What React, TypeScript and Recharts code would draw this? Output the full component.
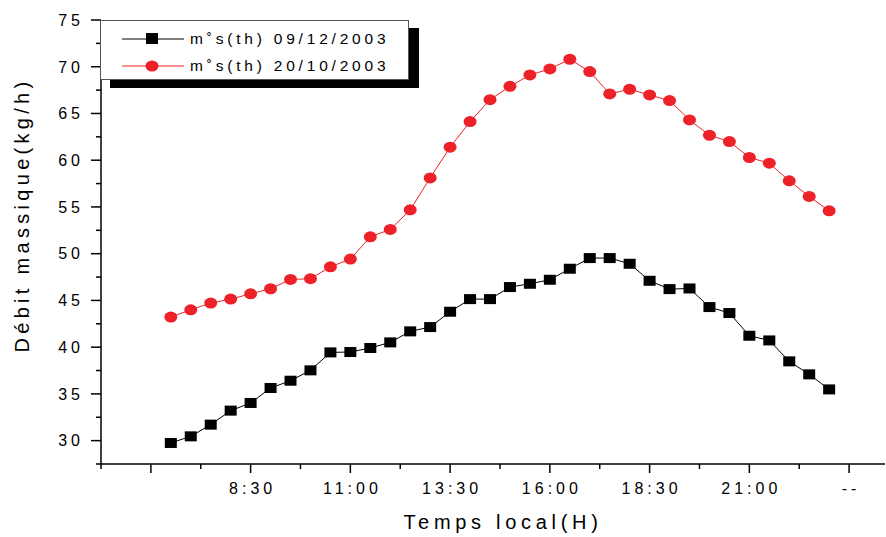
import React from 'react';
import { LineChart, Line, XAxis, YAxis } from 'recharts';

// local time in hours (6:30 .. 23:00, every 30 min)
const hours = [
  6.5, 7, 7.5, 8, 8.5, 9, 9.5, 10, 10.5, 11, 11.5, 12, 12.5, 13, 13.5, 14, 14.5,
  15, 15.5, 16, 16.5, 17, 17.5, 18, 18.5, 19, 19.5, 20, 20.5, 21, 21.5, 22, 22.5, 23,
];
const dec2003 = [
  29.75, 30.46, 31.71, 33.21, 34.03, 35.63, 36.41, 37.52, 39.44, 39.48, 39.91, 40.51, 41.69, 42.15, 43.79, 45.14, 45.14,
  46.43, 46.78, 47.21, 48.39, 49.53, 49.53, 48.92, 47.1, 46.21, 46.28, 44.29, 43.65, 41.22, 40.72, 38.48, 37.09, 35.48,
];
const oct2003 = [
  43.22, 44.0, 44.72, 45.14, 45.71, 46.25, 47.24, 47.32, 48.6, 49.42, 51.81, 52.59, 54.69, 58.11, 61.39, 64.13, 66.48,
  67.9, 69.12, 69.76, 70.8, 69.48, 67.09, 67.59, 66.98, 66.38, 64.31, 62.67, 62.0, 60.29, 59.68, 57.79, 56.12, 54.58,
];

const seriesNames = ['m˚s(th) 09/12/2003', 'm˚s(th) 20/10/2003'];
const xTicks = [4.75, 6, 7.25, 8.5, 9.75, 11, 12.25, 13.5, 14.75, 16, 17.25, 18.5, 19.75, 21, 22.25, 23.5];
const xTickLabels: Record<number, string> = {
  6: '', 8.5: '8:30', 11: '11:00', 13.5: '13:30', 16: '16:00', 18.5: '18:30', 21: '21:00', 23.5: '--',
};
const yTicks = [27.5, 30, 32.5, 35, 37.5, 40, 42.5, 45, 47.5, 50, 52.5, 55, 57.5, 60, 62.5, 65, 67.5, 70, 72.5, 75];

const data = hours.map((t, i) => ({ t, black: dec2003[i], red: oct2003[i] }));

const FONT = '"Liberation Sans", Arial, sans-serif';
const RED = '#ed2128';

const XTick = (props: any) => {
  const { x, y, payload } = props;
  const v = payload.value as number;
  const major = v in xTickLabels;
  const label = xTickLabels[v];
  return (
    <g>
      <line x1={x} x2={x} y1={y} y2={y + (major ? 9 : 5)} stroke="#000" strokeWidth={1.5} />
      {label ? (
        <text x={x + 2} y={y + 29.5} textAnchor="middle" fontFamily={FONT} fontSize={16} letterSpacing={4} fill="#000">
          {label}
        </text>
      ) : null}
    </g>
  );
};

const YTick = (props: any) => {
  const { x, y, payload } = props;
  const v = payload.value as number;
  const major = v % 5 === 0;
  return (
    <g>
      <line x1={x - (major ? 10 : 5)} x2={x} y1={y} y2={y} stroke="#000" strokeWidth={1.5} />
      {major ? (
        <text x={x - 17} y={y + 5.8} textAnchor="end" fontFamily={FONT} fontSize={16} letterSpacing={4} fill="#000">
          {v}
        </text>
      ) : null}
    </g>
  );
};

const SquareDot = (props: any) => {
  const { cx, cy } = props;
  return <rect x={cx - 6} y={cy - 5} width={12} height={10} fill="#000" />;
};

const CircleDot = (props: any) => {
  const { cx, cy } = props;
  return <ellipse cx={cx} cy={cy} rx={6.5} ry={5.5} fill={RED} />;
};

const LegendBox = () => (
  <div
    style={{
      position: 'absolute', left: 100, top: 20, width: 307, height: 58,
      background: '#fff', border: '1px solid #555', boxShadow: '10px 8px 0 #000',
      fontFamily: FONT, fontSize: 15.5, letterSpacing: 3.8, color: '#000',
    }}
  >
    {seriesNames.map((name, i) => (
      <div key={name} style={{ position: 'absolute', left: 0, top: i === 0 ? 6 : 33, height: 24, width: 307 }}>
        <svg width={90} height={24} style={{ position: 'absolute', left: 0, top: 0 }}>
          <line x1={21} x2={83} y1={12} y2={12} stroke={i === 0 ? '#000' : RED} strokeWidth={1} />
          {i === 0 ? (
            <rect x={45} y={6} width={12} height={11} fill="#000" />
          ) : (
            <ellipse cx={51} cy={12} rx={6.5} ry={5.5} fill={RED} />
          )}
        </svg>
        <span style={{ position: 'absolute', left: 89, top: 2, lineHeight: '20px', whiteSpace: 'nowrap' }}>{name}</span>
      </div>
    ))}
  </div>
);

export default function App() {
  return (
    <div style={{ position: 'absolute', left: 0, top: 0, width: 886, height: 537, background: '#fff' }}>
      <LineChart width={886} height={537} data={data} margin={{ top: 20, right: 1, bottom: 0, left: 0 }}>
        <XAxis
          dataKey="t"
          type="number"
          domain={[4.75, 24.4]}
          ticks={xTicks}
          interval={0}
          allowDataOverflow
          height={73}
          tickLine={false}
          tickSize={0}
          tickMargin={0}
          axisLine={{ stroke: '#000', strokeWidth: 1.5 }}
          tick={<XTick />}
          label={{
            content: () => (
              <text x={503} y={528.5} textAnchor="middle" fontFamily={FONT} fontSize={20} letterSpacing={4.7} fill="#000">
                Temps local(H)
              </text>
            ),
          }}
        />
        <YAxis
          type="number"
          domain={[27.5, 75]}
          ticks={yTicks}
          interval={0}
          allowDataOverflow
          width={101}
          tickLine={false}
          tickSize={0}
          tickMargin={0}
          axisLine={{ stroke: '#000', strokeWidth: 1.5 }}
          tick={<YTick />}
          label={{
            content: () => (
              <text
                x={0}
                y={0}
                transform="translate(29, 215) rotate(-90)"
                textAnchor="middle"
                fontFamily={FONT}
                fontSize={20}
                letterSpacing={4.3}
                fill="#000"
              >
                Débit massique(kg/h)
              </text>
            ),
          }}
        />
        <Line
          dataKey="black"
          name={seriesNames[0]}
          stroke="#000"
          strokeWidth={1}
          dot={<SquareDot />}
          activeDot={false}
          isAnimationActive={false}
        />
        <Line
          dataKey="red"
          name={seriesNames[1]}
          stroke={RED}
          strokeWidth={1}
          dot={<CircleDot />}
          activeDot={false}
          isAnimationActive={false}
        />
      </LineChart>
      <LegendBox />
    </div>
  );
}
